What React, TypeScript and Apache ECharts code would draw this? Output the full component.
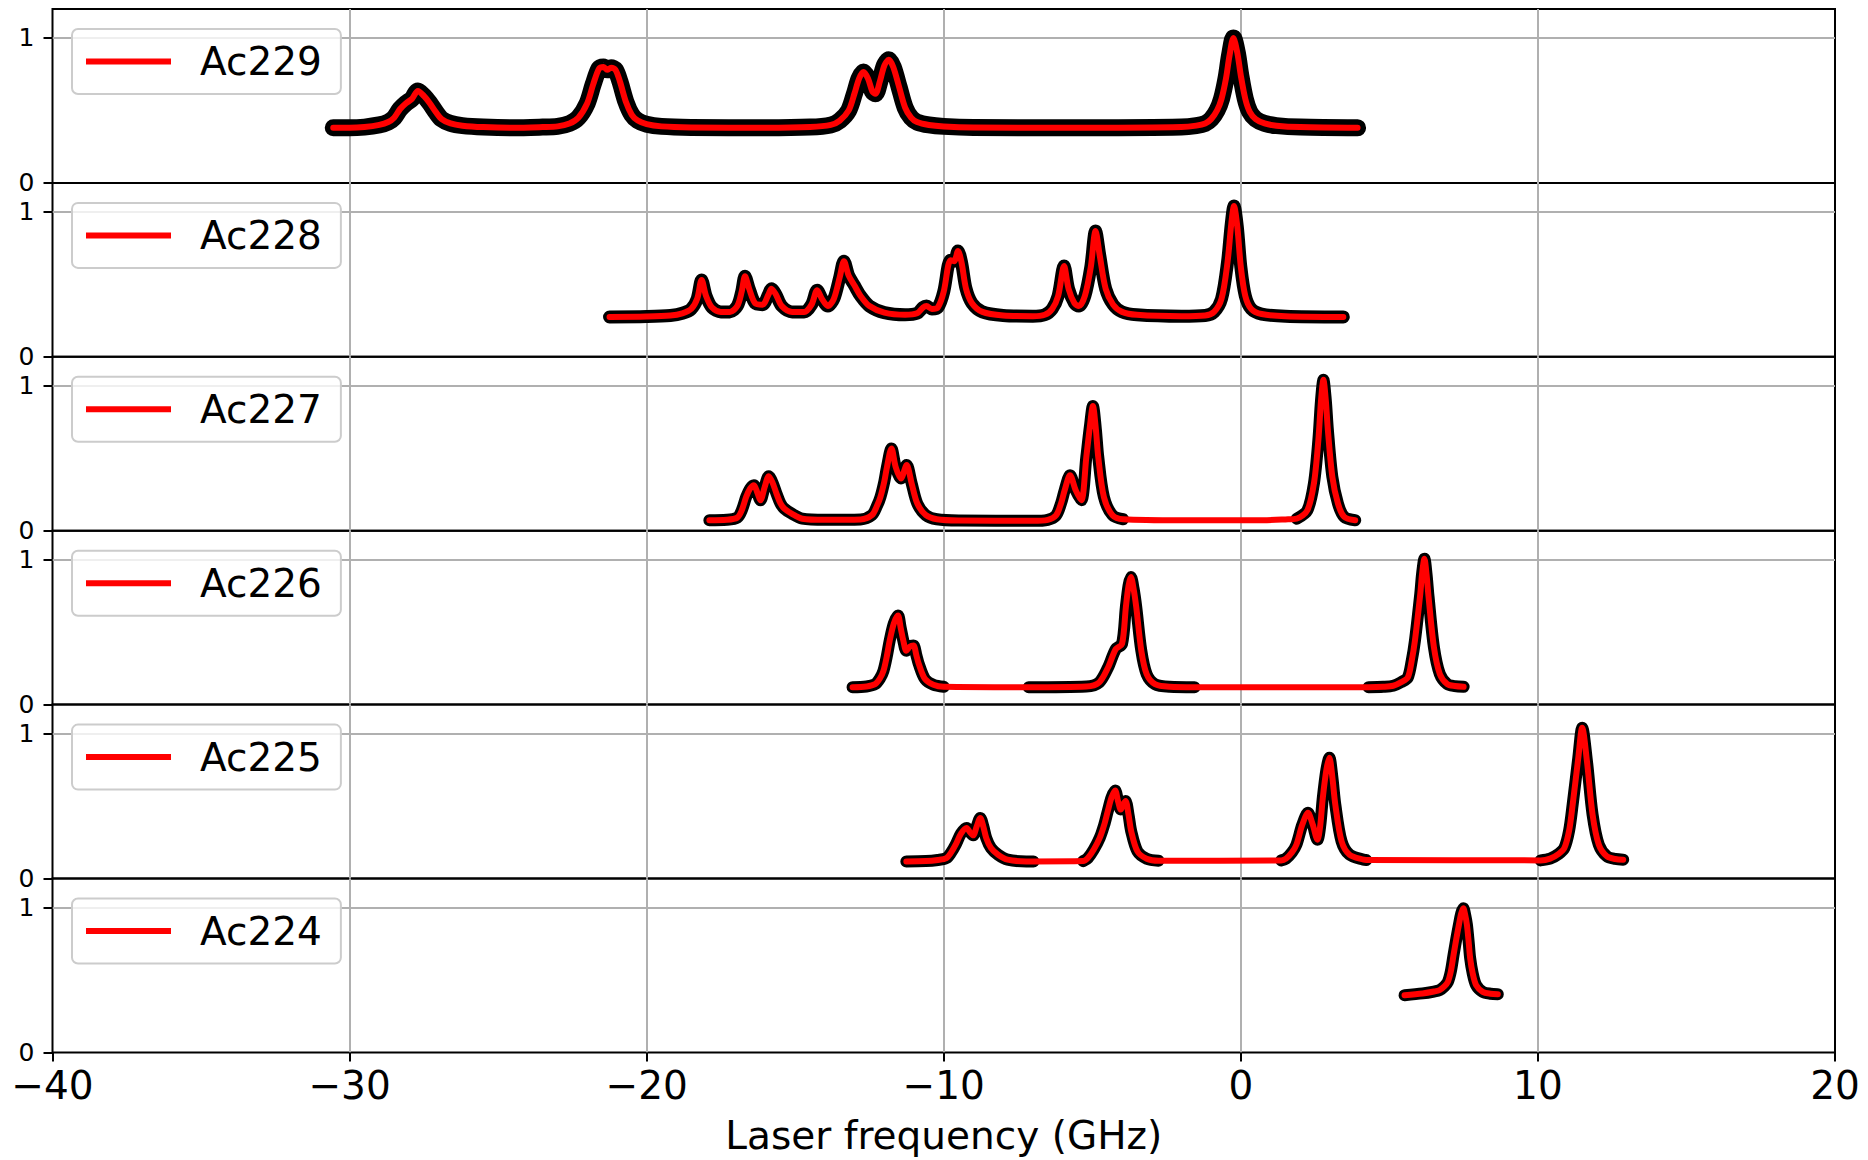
import React, { useEffect, useRef } from 'react';
import * as echarts from 'echarts';

// ---------------- data ----------------
const ISOTOPES = ['Ac229', 'Ac228', 'Ac227', 'Ac226', 'Ac225', 'Ac224'];
const X_MIN = -40;
const X_MAX = 20;
const X_STEP = 10;
const Y_TICKS = [0, 1];
const Y_MAX = 1.2;
const X_TITLE = 'Laser frequency (GHz)';

type P = [number, number];

const FIT_229: P[] = [[-30.55,0.38],[-30.0,0.38],[-29.5,0.385],[-29.0,0.40],[-28.7,0.42],[-28.5,0.45],[-28.3,0.51],[-28.1,0.55],[-27.9,0.58],[-27.7,0.635],[-27.5,0.60],[-27.3,0.55],[-27.1,0.49],[-26.9,0.44],[-26.6,0.41],[-26.2,0.395],[-25.5,0.385],[-24.5,0.38],[-23.5,0.385],[-23.0,0.39],[-22.6,0.41],[-22.3,0.45],[-22.0,0.55],[-21.8,0.68],[-21.6,0.79],[-21.45,0.80],[-21.33,0.78],[-21.2,0.795],[-21.05,0.78],[-20.9,0.70],[-20.7,0.56],[-20.5,0.47],[-20.3,0.43],[-20.0,0.405],[-19.5,0.39],[-18.5,0.383],[-16.0,0.38],[-14.5,0.385],[-13.8,0.40],[-13.5,0.43],[-13.2,0.50],[-13.0,0.62],[-12.85,0.72],[-12.7,0.765],[-12.55,0.72],[-12.4,0.63],[-12.3,0.615],[-12.15,0.70],[-12.0,0.81],[-11.85,0.85],[-11.7,0.80],[-11.5,0.66],[-11.3,0.52],[-11.1,0.45],[-10.9,0.42],[-10.5,0.40],[-10.0,0.39],[-9.0,0.383],[-5.0,0.38],[-2.0,0.385],[-1.5,0.395],[-1.2,0.41],[-1.0,0.44],[-0.8,0.50],[-0.65,0.58],[-0.5,0.72],[-0.38,0.88],[-0.25,1.0],[-0.12,0.90],[0.0,0.74],[0.15,0.58],[0.3,0.49],[0.5,0.44],[0.8,0.41],[1.2,0.395],[2.0,0.385],[3.93,0.38]];

const FIT_228: P[] = [[-21.25,0.275],[-20.0,0.278],[-19.2,0.285],[-18.8,0.30],[-18.5,0.33],[-18.3,0.40],[-18.15,0.53],[-18.0,0.42],[-17.8,0.34],[-17.5,0.31],[-17.2,0.31],[-16.95,0.35],[-16.8,0.45],[-16.69,0.555],[-16.55,0.47],[-16.35,0.37],[-16.1,0.36],[-15.9,0.43],[-15.8,0.47],[-15.65,0.43],[-15.45,0.35],[-15.1,0.31],[-14.7,0.31],[-14.45,0.36],[-14.26,0.46],[-14.1,0.40],[-13.9,0.35],[-13.7,0.40],[-13.5,0.55],[-13.36,0.66],[-13.2,0.56],[-13.0,0.49],[-12.8,0.42],[-12.5,0.35],[-12.0,0.305],[-11.3,0.29],[-10.9,0.30],[-10.7,0.34],[-10.58,0.35],[-10.4,0.33],[-10.2,0.34],[-10.0,0.45],[-9.85,0.63],[-9.77,0.667],[-9.65,0.66],[-9.52,0.73],[-9.4,0.65],[-9.25,0.47],[-9.05,0.37],[-8.7,0.31],[-8.0,0.285],[-7.0,0.28],[-6.6,0.29],[-6.35,0.33],[-6.15,0.42],[-5.95,0.626],[-5.8,0.47],[-5.6,0.37],[-5.45,0.35],[-5.25,0.42],[-5.05,0.62],[-4.89,0.868],[-4.75,0.70],[-4.55,0.47],[-4.3,0.36],[-4.0,0.31],[-3.5,0.29],[-2.0,0.28],[-1.2,0.285],[-0.9,0.31],[-0.65,0.40],[-0.45,0.65],[-0.32,0.92],[-0.23,1.04],[-0.12,0.90],[0.0,0.62],[0.15,0.42],[0.35,0.33],[0.7,0.295],[1.5,0.28],[3.45,0.275]];

const FIT_227: P[] = [[-17.89,0.072],[-17.3,0.075],[-16.95,0.09],[-16.8,0.14],[-16.65,0.233],[-16.52,0.29],[-16.39,0.314],[-16.27,0.26],[-16.17,0.21],[-16.03,0.30],[-15.89,0.376],[-15.76,0.33],[-15.63,0.256],[-15.5,0.19],[-15.37,0.153],[-15.12,0.118],[-14.76,0.083],[-14.0,0.075],[-12.8,0.078],[-12.42,0.107],[-12.25,0.17],[-12.13,0.233],[-12.0,0.34],[-11.91,0.441],[-11.76,0.568],[-11.62,0.441],[-11.44,0.36],[-11.25,0.453],[-11.08,0.326],[-10.89,0.187],[-10.6,0.107],[-10.23,0.079],[-9.5,0.07],[-7.0,0.068],[-6.5,0.075],[-6.22,0.105],[-6.05,0.19],[-5.93,0.279],[-5.75,0.383],[-5.56,0.28],[-5.37,0.21],[-5.2,0.51],[-5.08,0.72],[-4.98,0.861],[-4.88,0.70],[-4.8,0.51],[-4.61,0.233],[-4.32,0.107],[-3.96,0.079],[-2.0,0.072],[0.5,0.072],[1.5,0.078],[1.88,0.083],[2.24,0.141],[2.46,0.326],[2.61,0.626],[2.7,0.9],[2.78,1.041],[2.86,0.9],[2.93,0.695],[3.08,0.372],[3.27,0.187],[3.48,0.095],[3.85,0.072]];

const FIT_226: P[] = [[-13.07,0.12],[-12.6,0.125],[-12.31,0.141],[-12.15,0.18],[-12.03,0.233],[-11.92,0.33],[-11.82,0.441],[-11.68,0.56],[-11.54,0.614],[-11.45,0.53],[-11.36,0.441],[-11.26,0.372],[-11.14,0.40],[-11.02,0.407],[-10.92,0.34],[-10.84,0.28],[-10.63,0.176],[-10.35,0.137],[-10.0,0.123],[-7.14,0.12],[-5.2,0.125],[-4.77,0.153],[-4.47,0.256],[-4.21,0.383],[-4.0,0.418],[-3.87,0.672],[-3.78,0.82],[-3.70,0.88],[-3.61,0.80],[-3.52,0.672],[-3.35,0.372],[-3.17,0.21],[-2.89,0.141],[-2.4,0.123],[-1.56,0.12],[4.3,0.12],[4.8,0.123],[5.13,0.13],[5.4,0.155],[5.62,0.187],[5.75,0.30],[5.86,0.441],[6.04,0.764],[6.1,0.9],[6.18,1.007],[6.25,0.9],[6.32,0.741],[6.5,0.395],[6.7,0.21],[6.95,0.141],[7.2,0.128],[7.5,0.123]];

const FIT_225: P[] = [[-11.26,0.118],[-10.6,0.12],[-10.2,0.128],[-9.91,0.141],[-9.75,0.18],[-9.6,0.233],[-9.42,0.31],[-9.23,0.349],[-9.12,0.32],[-9.01,0.298],[-8.89,0.36],[-8.77,0.418],[-8.67,0.36],[-8.57,0.28],[-8.41,0.21],[-8.17,0.164],[-7.85,0.13],[-7.22,0.118],[-6.98,0.118],[-5.31,0.12],[-5.15,0.141],[-4.95,0.20],[-4.75,0.28],[-4.6,0.37],[-4.48,0.464],[-4.35,0.56],[-4.23,0.607],[-4.13,0.53],[-4.04,0.476],[-3.96,0.51],[-3.88,0.534],[-3.78,0.44],[-3.69,0.326],[-3.48,0.187],[-3.17,0.137],[-2.77,0.123],[1.36,0.125],[1.52,0.137],[1.72,0.18],[1.87,0.233],[2.07,0.372],[2.26,0.453],[2.42,0.372],[2.58,0.268],[2.67,0.36],[2.76,0.557],[2.88,0.75],[2.98,0.834],[3.08,0.70],[3.18,0.51],[3.39,0.257],[3.66,0.164],[4.14,0.13],[4.22,0.128],[10.09,0.125],[10.41,0.137],[10.7,0.17],[10.89,0.21],[11.05,0.33],[11.17,0.51],[11.36,0.834],[11.49,1.041],[11.65,0.81],[11.84,0.441],[12.05,0.233],[12.32,0.153],[12.6,0.135],[12.87,0.13]];

const FIT_224: P[] = [[5.51,0.395],[6.12,0.407],[6.5,0.42],[6.69,0.43],[6.85,0.455],[6.97,0.487],[7.07,0.56],[7.16,0.672],[7.25,0.78],[7.34,0.88],[7.42,0.96],[7.49,0.995],[7.55,0.95],[7.61,0.88],[7.67,0.76],[7.72,0.649],[7.8,0.55],[7.92,0.464],[8.14,0.418],[8.4,0.405],[8.65,0.402]];

// measured-data x ranges (GHz) for each isotope
const SEG_229: P[] = [[-30.55, 3.93]];
const SEG_228: P[] = [[-21.25, 3.45]];
const SEG_227: P[] = [[-17.89, -3.96], [1.88, 3.85]];
const SEG_226: P[] = [[-13.07, -10.0], [-7.14, -1.56], [4.3, 7.5]];
const SEG_225: P[] = [[-11.26, -6.98], [-5.31, -2.77], [1.36, 4.22], [10.09, 12.87]];
const SEG_224: P[] = [[5.51, 8.65]];

const FITS = [FIT_229, FIT_228, FIT_227, FIT_226, FIT_225, FIT_224];
const SEGS = [SEG_229, SEG_228, SEG_227, SEG_226, SEG_225, SEG_224];

// ---------------- layout / style ----------------
const FONT = 'DejaVu Sans';
const LEFT = 52.5;
const PLOT_W = 1782.5;
const TOP = 9;
const PANEL_H = 173.9;
const DATA_WIDTHS = [17, 13, 12, 12, 12, 12];
const FIT_WIDTH = 6;
const GRID_COLOR = '#b0b0b0';

function fmtX(v: number) {
  return v < 0 ? '\u2212' + Math.abs(v) : String(v);
}

function buildOption() {
  const n = ISOTOPES.length;
  const grid: any[] = [];
  const xAxis: any[] = [];
  const yAxis: any[] = [];
  const legend: any[] = [];
  const series: any[] = [];

  ISOTOPES.forEach((name, i) => {
    const last = i === n - 1;
    grid.push({
      left: LEFT,
      top: TOP + i * PANEL_H,
      width: PLOT_W,
      height: PANEL_H,
      show: true,
      borderColor: '#000',
      borderWidth: 2,
      backgroundColor: 'rgba(0,0,0,0)',
    });
    xAxis.push({
      type: 'value',
      gridIndex: i,
      position: 'bottom',
      min: X_MIN,
      max: X_MAX,
      interval: X_STEP,
      axisLine: { show: false, onZero: false },
      axisTick: { show: last, length: 9, lineStyle: { color: '#000', width: 2 } },
      axisLabel: {
        show: last,
        showMinLabel: true,
        showMaxLabel: true,
        fontSize: 39,
        lineHeight: 30,
        fontFamily: FONT,
        color: '#000',
        margin: 18.5,
        formatter: fmtX,
      },
      splitLine: {
        show: true,
        showMinLine: false,
        showMaxLine: false,
        lineStyle: { color: GRID_COLOR, width: 2 },
      },
      name: last ? X_TITLE : '',
      nameLocation: 'middle',
      nameGap: 64,
      nameTextStyle: { fontSize: 39, fontFamily: FONT, color: '#000' },
    });
    yAxis.push({
      type: 'value',
      gridIndex: i,
      position: 'left',
      min: 0,
      max: Y_MAX,
      interval: 1,
      axisLine: { show: false, onZero: false },
      axisTick: { show: true, length: 9, customValues: Y_TICKS, lineStyle: { color: '#000', width: 2 } },
      axisLabel: {
        show: true,
        customValues: Y_TICKS,
        fontSize: 25,
        lineHeight: 20,
        fontFamily: FONT,
        color: '#000',
        margin: 18,
      },
      splitLine: {
        show: true,
        showMinLine: false,
        showMaxLine: true,
        lineStyle: { color: GRID_COLOR, width: 2 },
      },
    });
    legend.push({
      show: true,
      data: [name],
      left: 72,
      top: TOP + i * PANEL_H + 20,
      icon: 'rect',
      itemWidth: 85,
      itemHeight: 6,
      selectedMode: false,
      backgroundColor: 'rgba(255,255,255,0.8)',
      borderColor: '#cccccc',
      borderWidth: 2,
      borderRadius: 6,
      padding: [13, 19, 13, 14],
      textStyle: { fontSize: 39, fontFamily: FONT, color: '#000', padding: [0, 0, 0, 24] },
    });

    const fit = FITS[i];
    SEGS[i].forEach(([a, b], k) => {
      const pts = fit.filter((p) => p[0] >= a - 1e-9 && p[0] <= b + 1e-9);
      series.push({
        type: 'line',
        name: name + ' data ' + k,
        xAxisIndex: i,
        yAxisIndex: i,
        data: pts,
        symbol: 'none',
        showSymbol: false,
        smooth: 0.3,
        silent: true,
        z: 2,
        itemStyle: { color: '#000' },
        lineStyle: { color: '#000', width: DATA_WIDTHS[i], cap: 'round', join: 'round' },
      });
    });
    series.push({
      type: 'line',
      name,
      xAxisIndex: i,
      yAxisIndex: i,
      data: fit,
      symbol: 'none',
      showSymbol: false,
      smooth: 0.3,
      silent: true,
      z: 3,
      itemStyle: { color: '#ff0000' },
      lineStyle: { color: '#ff0000', width: FIT_WIDTH, cap: 'round', join: 'round' },
    });
  });

  return {
    animation: false,
    backgroundColor: '#ffffff',
    grid,
    xAxis,
    yAxis,
    legend,
    series,
  };
}

export default function App() {
  const ref = useRef<HTMLDivElement>(null);
  useEffect(() => {
    if (!ref.current) return;
    const chart = echarts.init(ref.current, undefined, { renderer: 'svg' });
    chart.setOption(buildOption() as any);
    return () => chart.dispose();
  }, []);
  return (
    <div
      ref={ref}
      style={{ position: 'absolute', left: 0, top: 0, width: 1868, height: 1160, background: '#fff' }}
    />
  );
}
